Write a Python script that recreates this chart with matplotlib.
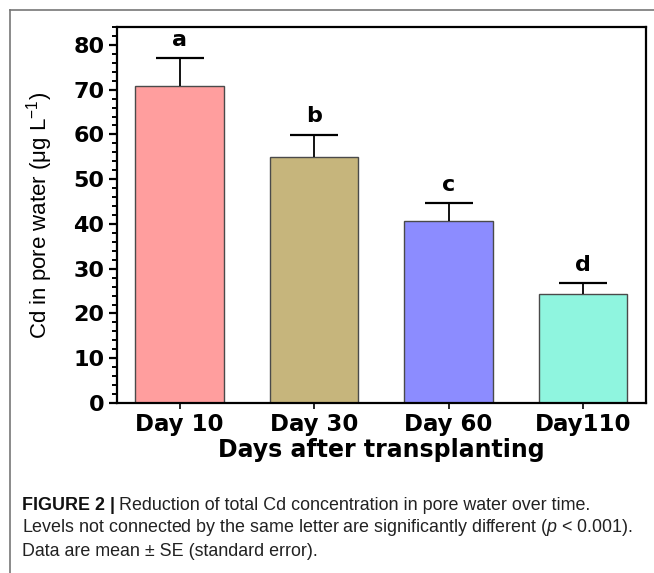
import matplotlib.pyplot as plt
from matplotlib.lines import Line2D
from matplotlib.ticker import MultipleLocator
import numpy as np

# Cd in pore water over the growing season
days = ['Day 10', 'Day 30', 'Day 60', 'Day110']
cd_mean = [70.8, 54.9, 40.6, 24.3]
cd_se = [6.2, 5.0, 4.0, 2.5]
letters = ['a', 'b', 'c', 'd']
bar_colors = ['#FF9E9E', '#C6B57C', '#8C8CFF', '#8FF5DF']

caption_head = 'FIGURE 2 |'
caption_lines = [
	'Reduction of total Cd concentration in pore water over time.',
	'Levels not connected by the same letter are significantly different ($\\it{p}$ < 0.001).',
	'Data are mean \u00b1 SE (standard error).',
]

plt.rcParams['mathtext.fontset'] = 'custom'
plt.rcParams['mathtext.rm'] = 'Liberation Sans'
plt.rcParams['mathtext.it'] = 'Liberation Sans:italic'
plt.rcParams['mathtext.bf'] = 'Liberation Sans:bold'

sans = ['Liberation Sans', 'DejaVu Sans']

fig = plt.figure(figsize=(6.54, 5.73), dpi=100)
ax = fig.add_axes([117/654, 1 - 403/573, (646 - 117)/654, (403 - 27)/573])

x = np.arange(len(days))
ax.bar(x, cd_mean, width=0.66, color=bar_colors, edgecolor='#4a4a4a', linewidth=1.0, zorder=2)
eb = ax.errorbar(x, cd_mean, yerr=[np.zeros(len(cd_se)), cd_se], fmt='none', ecolor='black',
	elinewidth=1.3, capsize=17, capthick=1.6, zorder=3)
# one-sided bars: hide the lower caps
eb[1][0].set_visible(False)

for xi, m, s, t in zip(x, cd_mean, cd_se, letters):
	ax.text(xi, m + s + 2.8, t, ha='center', va='baseline', fontsize=16, fontweight='bold')

ax.set_xlim(-0.465, 3.468)
ax.set_ylim(0, 84)
ax.set_xticks(x)
ax.set_xticklabels(days, fontsize=16.5, fontweight='bold')
ax.yaxis.set_major_locator(MultipleLocator(10))
ax.yaxis.set_minor_locator(MultipleLocator(2))
ax.set_yticks(np.arange(0, 81, 10))
for lbl in ax.get_yticklabels():
	lbl.set_fontsize(16)
	lbl.set_fontweight('bold')

for side in ['left', 'bottom', 'top', 'right']:
	ax.spines[side].set_linewidth(1.6)
ax.tick_params(axis='y', which='major', length=6, width=1.6, pad=3)
ax.tick_params(axis='y', which='minor', length=3.8, width=1.4)
ax.tick_params(axis='x', which='major', length=4, width=1.2, pad=3)

ax.set_xlabel('Days after transplanting', fontsize=17, fontweight='bold', labelpad=2)
ax.set_ylabel('Cd in pore water ($\\mathrm{\\mu}$g L$^{-1}$)', fontsize=16, family=sans, labelpad=13)

# thin page frame around the figure panel
fig.add_artist(Line2D([10/654, 1], [1 - 10/573] * 2, color='#777777', linewidth=1.2))
fig.add_artist(Line2D([10/654] * 2, [0, 1 - 10/573], color='#777777', linewidth=1.2))

# caption
cap_size = 12.9
head = fig.text(22/654, 1 - 505/573, caption_head, fontsize=cap_size, fontweight='bold',
	family=sans, va='center', color='#111111')
ax.annotate(caption_lines[0], xy=(1, 0.5), xycoords=head, xytext=(3, 0), textcoords='offset points',
	fontsize=cap_size, family=sans, va='center', color='#222222', annotation_clip=False)
fig.text(22/654, 1 - 528/573, caption_lines[1], fontsize=cap_size, family=sans, va='center', color='#222222')
fig.text(22/654, 1 - 551/573, caption_lines[2], fontsize=cap_size, family=sans, va='center', color='#222222')

fig.savefig('out.png', dpi=100)
